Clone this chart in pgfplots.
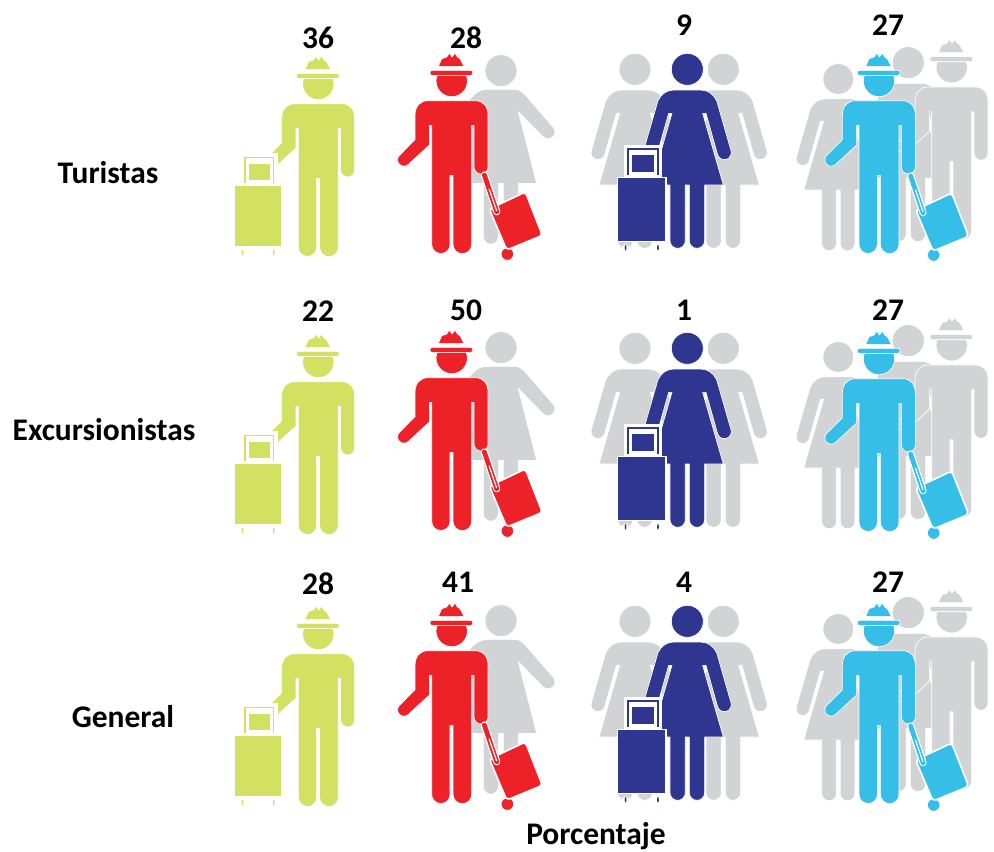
\documentclass[border=0pt]{standalone}
\usepackage{fontspec}
\setmainfont{Carlito}
\usepackage{pgfplots}
\pgfplotsset{compat=1.18}
\definecolor{clime}{HTML}{D3E162}
\definecolor{cred}{HTML}{ED2228}
\definecolor{cnavy}{HTML}{2E3690}
\definecolor{ccyan}{HTML}{35BFE8}
\definecolor{cgray}{HTML}{D1D3D4}
\tikzset{ico/.style={fill=#1,draw=white,line width=.5pt,line join=round},
  flat/.style={fill=#1,draw=none},
  lab/.style={font=\bfseries\fontsize{23.6}{25}\selectfont,text=black}}
% Icons are drawn in units of 1/3 reference pixel
\newcommand{\man}[1]{%
 \path[ico=#1] (-40,178)--(-30,155)--(-15,150)--(-7,138)--(1,150)--(10,138)--(17,150)--(25,155)--(37,178)--cycle;
 \path[ico=#1,rounded corners=1.5pt] (-65,190) rectangle (63,205);
 \path[ico=#1] (-43.9,205.2) arc[start angle=201,end angle=-21,radius=47] -- cycle;
 \path[ico=#1] (-110,325) .. controls (-110,298) and (-95,281) .. (-70,281) -- (70,281)
   .. controls (95,281) and (109,298) .. (109,325) -- (109,480) arc[start angle=0,end angle=180,radius=21]
   -- (67,355) -- (60,355) -- (60,712) arc[start angle=0,end angle=180,radius=28]
   -- (4,505) -- (-5,505) -- (-5,712) arc[start angle=0,end angle=180,radius=27.5]
   -- (-60,355) -- (-67,355) -- (-67,414) -- (-130,472) arc[start angle=45,end angle=225,radius=19]
   -- (-110,398) -- cycle;
}
\newcommand{\woman}[1]{%
 \path[ico=#1] (0,178) circle[radius=48];
 \path[ico=#1] (-40,240) -- (40,240) .. controls (62,240) and (78,252) .. (88,272)
   -- (131.2,422.3) arc[start angle=-15.8,end angle=164.2,radius=21]
   -- (56,310) -- (46,310) -- (108,525) -- (52,525) -- (52,692) arc[start angle=0,end angle=180,radius=23]
   -- (6,525) -- (-6,525) -- (-6,692) arc[start angle=0,end angle=180,radius=23]
   -- (-52,525) -- (-108,525) -- (-46,310) -- (-56,310) -- (-90.8,433.7)
   arc[start angle=15.8,end angle=195.8,radius=21]
   -- (-88,272) .. controls (-78,252) and (-62,240) .. (-40,240) -- cycle;
}
\newcommand{\womanspread}[1]{%
 \path[ico=#1] (0,182) circle[radius=48];
 \path[ico=#1] (-95,270) .. controls (-75,245) and (-60,238) .. (-40,238) -- (40,238)
   .. controls (55,238) and (62,245) .. (70,252) -- (157,352) arc[start angle=-40,end angle=140,radius=21]
   -- (52,305) -- (107,520) -- (52,520) -- (52,680) arc[start angle=0,end angle=180,radius=22.5]
   -- (7,520) -- (-8,520) -- (-8,680) arc[start angle=0,end angle=180,radius=22.5]
   -- (-53,520) -- (-107,520) -- cycle;
}
\newcommand{\upcase}[1]{%
 \path[flat=white] (19,-91) rectangle (125,2);
 \path[flat=#1] (27,-82) rectangle (115,-7);
 \path[flat=white] (32,-77) rectangle (110,-7);
 \path[flat=#1] (42,-62) rectangle (101,-14);
 \path[flat=white] (23,195) circle[radius=9];
 \path[flat=white] (113,195) circle[radius=9];
 \path[flat=#1] (23,195) ellipse[x radius=2.5,y radius=8];
 \path[flat=#1] (113,195) ellipse[x radius=2.5,y radius=8];
 \path[fill=#1,draw=white,line width=1.2pt] (0,0) rectangle (135,178);
}
\newcommand{\tiltcase}[1]{%
 \path[ico=#1,line width=.6pt] (167,741) circle[radius=19];
 \path[fill=#1,draw=white,line width=1.2pt,rounded corners=2.5pt] (113,606) -- (221,555) -- (272,685) -- (165,729) -- cycle;
 \draw[white,line width=5.5pt,line cap=round] (98,504) -- (135,614);
 \draw[#1,line width=3.6pt,line cap=round] (98,504) -- (135,614);
 \draw[white,line width=.9pt] (112,545) -- (135,612);
}
\newcommand{\iconscope}[2][.25]{\begin{scope}[x=#1pt,y=-#1pt]#2\end{scope}}
\pgfdeclareplotmark{manlime}{\iconscope{\man{clime}}}
\pgfdeclareplotmark{manred}{\iconscope{\man{cred}}}
\pgfdeclareplotmark{mancyan}{\iconscope{\man{ccyan}}}
\pgfdeclareplotmark{mangray}{\iconscope{\man{cgray}}}
\pgfdeclareplotmark{womannavy}{\iconscope{\woman{cnavy}}}
\pgfdeclareplotmark{womangray}{\iconscope{\woman{cgray}}}
\pgfdeclareplotmark{womangraysmall}{\iconscope[.24]{\woman{cgray}}}
\pgfdeclareplotmark{womanspreadgray}{\iconscope{\womanspread{cgray}}}
\pgfdeclareplotmark{caselime}{\iconscope[.26]{\upcase{clime}}}
\pgfdeclareplotmark{casenavy}{\iconscope[.27]{\upcase{cnavy}}}
\pgfdeclareplotmark{tiltred}{\iconscope{\tiltcase{cred}}}
\pgfdeclareplotmark{tiltcyan}{\iconscope{\tiltcase{ccyan}}}
\begin{document}
\begin{tikzpicture}
\useasboundingbox (0,0) rectangle (745.5pt,638.25pt);
\begin{axis}[
  at={(0,0)},anchor=south west,
  scale only axis,width=745.5pt,height=638.25pt,
  xmin=0,xmax=994,ymin=0,ymax=851,y dir=reverse,
  hide axis,clip=false,
  every axis plot/.append style={only marks},
]
% column 1
\addplot[mark=manlime] coordinates {(318.3,10) (318.3,288) (318.3,560)};
\addplot[mark=caselime] coordinates {(234.5,185) (234.5,463) (234.5,735)};
% column 2
\addplot[mark=womanspreadgray] coordinates {(501,10) (501,287) (501,560)};
\addplot[mark=manred] coordinates {(451.7,7) (451.7,284) (451.7,557)};
\addplot[mark=tiltred] coordinates {(451.7,7) (451.7,284) (451.7,557)};
% column 3
\addplot[mark=womangray] coordinates {(635,10) (635,289) (635,562)};
\addplot[mark=womangray] coordinates {(723.3,10) (723.3,289) (723.3,562)};
\addplot[mark=womannavy] coordinates {(687.3,10) (687.3,289) (687.3,562)};
\addplot[mark=casenavy] coordinates {(617.3,177.5) (617.3,456.5) (617.3,729.5)};
% column 4
\addplot[mark=womangray] coordinates {(908.3,3.3) (908.3,281.3) (908.3,553.3)};
\addplot[mark=mangray] coordinates {(951.7,-6.7) (951.7,271.3) (951.7,543.3)};
\addplot[mark=womangraysmall] coordinates {(838.3,22) (838.3,300) (838.3,572)};
\addplot[mark=mancyan] coordinates {(879,7) (879,285) (879,557)};
\addplot[mark=tiltcyan] coordinates {(878,8) (878,286) (878,558)};
\addplot[mark=none,point meta=explicit symbolic,nodes near coords,
  nodes near coords style={anchor=center,font=\bfseries\fontsize{23.6}{25}\selectfont,text=black,inner sep=0pt}]
  table[meta=v] {
x y v
318 38 36
466 38 28
684 25 9
888 25 27
318 311 22
466 310 50
684 310 1
888 310 27
318 584 28
458 582 41
684 582 4
888 582 27
};
\node[lab] at (axis cs:108,173) {Turistas};
\node[lab] at (axis cs:104,430) {Excursionistas};
\node[lab] at (axis cs:123,717) {General};
\node[lab] at (axis cs:596,836) {Porcentaje};
\end{axis}
\end{tikzpicture}
\end{document}
